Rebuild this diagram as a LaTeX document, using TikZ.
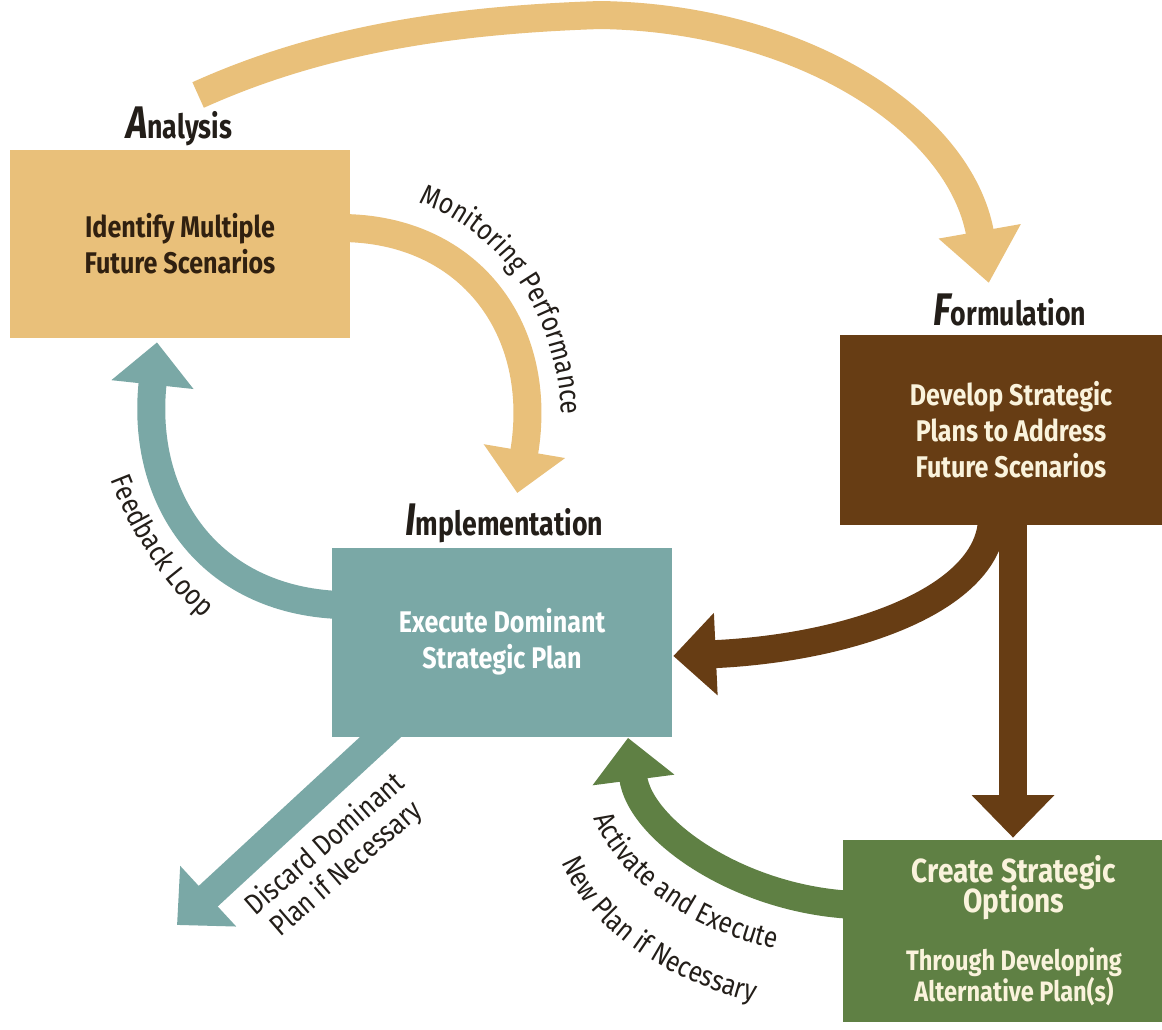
\documentclass[tikz,border=0pt]{standalone}
\usepackage{fontspec}
\setmainfont{Fira Sans}[FakeStretch=0.84]
\newfontfamily\phasefont{Fira Sans}[FakeStretch=0.8]
\newfontfamily\notefont{Fira Sans}[FakeStretch=0.85]
\usetikzlibrary{positioning, calc, arrows.meta, decorations.text, backgrounds}
\definecolor{spTan}{RGB}{233,192,122}
\definecolor{spBrown}{RGB}{103,61,20}
\definecolor{spTeal}{RGB}{122,168,166}
\definecolor{spGreen}{RGB}{95,128,68}
\definecolor{spInk}{RGB}{35,30,25}
\definecolor{spDark}{RGB}{48,32,16}
\definecolor{spCream}{RGB}{250,243,220}
\newcommand{\notesize}{\notefont\fontsize{16.5}{19}\selectfont}

\begin{document}
\begin{tikzpicture}[x=0.02cm, y=-0.02cm,
  box/.style={inner sep=0pt, align=center, font=\bfseries\fontsize{17}{20.5}\selectfont},
  phase/.style={inner sep=0pt, anchor=base west, text=spInk, font=\phasefont\bfseries\fontsize{19}{20}\selectfont},
  arrow/.style={line width=0.56cm, -{Triangle[width=1.6cm, length=0.85cm]}},
  note/.style={decorate, decoration={text along path, text align=center, text color=spInk, text={|\notesize|#1}}}
]
  \useasboundingbox (0,0) rectangle (1162,1029);
  \clip (0,0) rectangle (1162,1029);

  \node[box, fill=spTan, text=spDark, minimum width=6.8cm, minimum height=3.76cm] (ana) at (180,244) {Identify Multiple\\Future Scenarios};
  \node[box, fill=spBrown, text=spCream, minimum width=6.84cm, minimum height=3.8cm] (form) at (1011,430) {Develop Strategic\\Plans to Address\\Future Scenarios};
  \node[box, fill=spTeal, text=white, minimum width=6.8cm, minimum height=3.78cm] (impl) at (502,642) {Execute Dominant\\Strategic Plan};
  \node[box, fill=spGreen, text=spCream, minimum width=6.84cm, minimum height=3.64cm, font=\bfseries\fontsize{16}{17.5}\selectfont] (opt) at (1014,931) {{\fontsize{19}{17}\selectfont Create Strategic}\\[-4pt]{\fontsize{19}{17}\selectfont Options}\\[16pt]Through Developing\\Alternative Plan(s)};

  \node[phase] (analbl) at (126,138) {{\fontsize{26}{26}\selectfont\itshape A}nalysis};
  \node[phase] (formlbl) at (933,325) {{\fontsize{26}{26}\selectfont\itshape F}ormulation};
  \node[phase] (impllbl) at (405,535) {{\fontsize{26}{26}\selectfont\itshape I}mplementation};

  \coordinate (discardtip) at (177,925);

  \begin{scope}[on background layer]
    \fill[white] (0,0) rectangle (1162,1029);
    \draw[arrow, spTan, -{Triangle[width=1.6cm, length=1.05cm]}] ($(analbl.north)+(19,-11)$) .. controls (320,40) and (450,20) .. (600,15) .. controls (800,18) and (960,120) .. ($(formlbl.north)+(-21,-10)$);
    \draw[arrow, spTan] ($(ana.east)+(-10,-16)$) .. controls (470,228) and (545,330) .. ($(impllbl.north)+(13,-10)$);
    \draw[arrow, spTeal] ($(impl.west)+(8,-37)$) .. controls (210,600) and (140,500) .. ($(ana.south)+(-23,4)$);
    \draw[arrow, spBrown] ($(form.south)+(-19,-5)$) .. controls (988,600) and (850,648) .. ($(impl.east)+(1,14)$);
    \draw[arrow, spBrown] ($(form.south)+(2,-5)$) -- ($(opt.north)+(-1,-2)$);
    \draw[arrow, spTeal] ($(impl.south)+(-105,-15)$) -- (discardtip);
    \draw[arrow, spGreen] ($(opt.west)+(12,-26)$) .. controls (740,900) and (640,830) .. ($(impl.south)+(126,1)$);
  \end{scope}

  \path[note={Monitoring Performance}] (340,190) .. controls (490,188) and (585,320) .. (558,495);
  \path[note={Feedback Loop}] (105,465) .. controls (125,525) and (165,590) .. (215,628);
  \path[note={Activate and Execute}] (588,802) .. controls (608,875) and (692,935) .. (792,952);
  \path[note={New Plan if Necessary}] (554,840) .. controls (574,918) and (655,983) .. (777,1007);
  \node[rotate=41, align=center, text=spInk, inner sep=0pt, font=\notefont\fontsize{16.5}{18.5}\selectfont] (discard) at (336,857) {Discard Dominant\\Plan if Necessary};
\end{tikzpicture}
\end{document}
